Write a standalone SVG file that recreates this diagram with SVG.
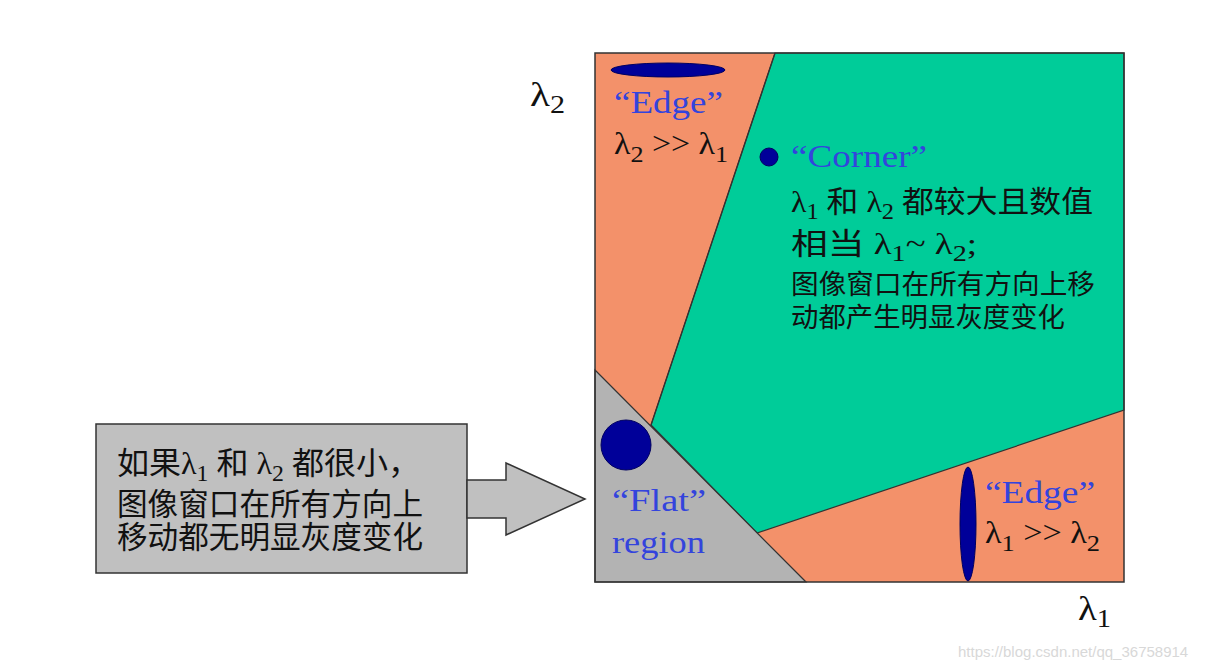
<svg xmlns="http://www.w3.org/2000/svg" width="1211" height="668" viewBox="0 0 1211 668">
<style>
.reg{stroke:#333;stroke-width:1.2}
.or{fill:#F3916A}
.gr{fill:#00CC99}
.gy{fill:#B3B3B3}
.dot{fill:#000099;stroke:#000060;stroke-width:1}
.s{font-family:"Liberation Serif","Noto Serif",serif}
.blue{fill:#3344DD}
.blk{fill:#111}
.cjk{font-family:"Liberation Serif","Noto Sans CJK SC",sans-serif;fill:#111}
</style>
<rect width="1211" height="668" fill="#fff"/>
<g id="chart">
<rect x="595" y="53" width="529" height="529" class="or"/>
<polygon class="gr reg" points="775,53 1124,53 1124,410 757,533 651,425"/>
<polygon class="gy reg" points="595,370 806,582 595,582"/>
<line x1="775" y1="53" x2="651" y2="425" class="reg"/>
<rect x="595" y="53" width="529" height="529" fill="none" stroke="#333" stroke-width="1.5"/>
</g>
<g id="edge-top">
<ellipse cx="668" cy="70" rx="57" ry="7" class="dot"/>
<text x="614" y="113" class="s blue" font-size="31" textLength="109" lengthAdjust="spacingAndGlyphs">“Edge”</text>
<text x="614" y="154" class="s blk" font-size="31" textLength="114" lengthAdjust="spacingAndGlyphs">λ<tspan font-size="24" dy="8">2</tspan><tspan dy="-8"> &gt;&gt; λ</tspan><tspan font-size="24" dy="8">1</tspan></text>
</g>
<g id="corner">
<circle cx="769" cy="157" r="9" class="dot"/>
<text x="791" y="167" class="s blue" font-size="31" textLength="136" lengthAdjust="spacingAndGlyphs">“Corner”</text>
<text x="791" y="212" class="cjk" font-size="30" textLength="302" lengthAdjust="spacingAndGlyphs">λ<tspan font-size="23" dy="7">1</tspan><tspan dy="-7"> 和 λ</tspan><tspan font-size="23" dy="7">2</tspan><tspan dy="-7"> 都较大且数值</tspan></text>
<text x="791" y="254" class="cjk" font-size="30" textLength="186" lengthAdjust="spacingAndGlyphs">相当 λ<tspan font-size="23" dy="7">1</tspan><tspan dy="-7">~ λ</tspan><tspan font-size="23" dy="7">2</tspan><tspan dy="-7">;</tspan></text>
<text x="791" y="294" class="cjk" font-size="27" textLength="304" lengthAdjust="spacingAndGlyphs">图像窗口在所有方向上移</text>
<text x="791" y="327" class="cjk" font-size="27" textLength="274" lengthAdjust="spacingAndGlyphs">动都产生明显灰度变化</text>
</g>
<g id="flat">
<circle cx="626" cy="445" r="25" class="dot"/>
<text x="612" y="511" class="s blue" font-size="31" textLength="94" lengthAdjust="spacingAndGlyphs">“Flat”</text>
<text x="612" y="553" class="s blue" font-size="31" textLength="93" lengthAdjust="spacingAndGlyphs">region</text>
</g>
<g id="edge-right">
<ellipse cx="968" cy="524" rx="8" ry="57" class="dot"/>
<text x="985" y="503" class="s blue" font-size="31" textLength="110" lengthAdjust="spacingAndGlyphs">“Edge”</text>
<text x="985" y="543" class="s blk" font-size="31" textLength="115" lengthAdjust="spacingAndGlyphs">λ<tspan font-size="24" dy="8">1</tspan><tspan dy="-8"> &gt;&gt; λ</tspan><tspan font-size="24" dy="8">2</tspan></text>
</g>
<g id="axes">
<text x="530" y="106" class="s blk" font-size="34" textLength="35" lengthAdjust="spacingAndGlyphs">λ<tspan font-size="25" dy="7">2</tspan></text>
<text x="1078" y="620" class="s blk" font-size="34" textLength="33" lengthAdjust="spacingAndGlyphs">λ<tspan font-size="25" dy="7">1</tspan></text>
</g>
<g id="note">
<rect x="96" y="424" width="371" height="149" fill="#C0C0C0" stroke="#333" stroke-width="1.5"/>
<text x="117" y="474" class="cjk" font-size="31" textLength="303" lengthAdjust="spacingAndGlyphs">如果λ<tspan font-size="23" dy="7">1</tspan><tspan dy="-7"> 和 λ</tspan><tspan font-size="23" dy="7">2</tspan><tspan dy="-7"> 都很小，</tspan></text>
<text x="117" y="515" class="cjk" font-size="31" textLength="306" lengthAdjust="spacingAndGlyphs">图像窗口在所有方向上</text>
<text x="117" y="548" class="cjk" font-size="31" textLength="306" lengthAdjust="spacingAndGlyphs">移动都无明显灰度变化</text>
</g>
<g id="connectors">
<polygon points="467,480 506,480 506,463 585,499 506,535 506,518 467,518" fill="#C0C0C0" stroke="#333" stroke-width="1.5"/>
</g>
<text x="958" y="657" font-family="Liberation Sans,Arial,sans-serif" font-size="15" fill="#d8d8d8">https://blog.csdn.net/qq_36758914</text>
</svg>
